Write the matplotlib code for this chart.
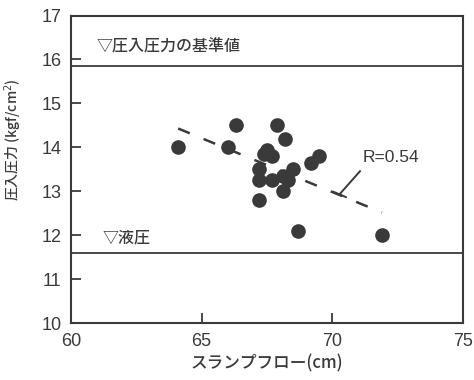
import matplotlib
matplotlib.use('Agg')
from matplotlib import pyplot as plt
import numpy as np

# slump flow (cm) vs injection pressure (kgf/cm2)
slump_flow = [64.1, 66.3, 66.0, 67.9, 68.2, 67.5, 67.4, 67.7, 67.2, 67.2,
              67.2, 67.7, 68.1, 68.3, 68.1, 68.5, 69.2, 69.5, 68.7, 71.9]
pressure = [14.0, 14.5, 14.0, 14.5, 14.2, 13.95, 13.85, 13.8, 13.5, 13.25,
            12.8, 13.25, 13.35, 13.25, 13.0, 13.5, 13.65, 13.8, 12.1, 12.0]

fit_x = [64.1, 71.9]
fit_y = [14.43, 12.52]

standard_pressure = 15.85
liquid_pressure = 11.6

num_font = ['Liberation Sans Narrow', 'Liberation Sans']
jp_font = ['Noto Sans CJK JP', 'DejaVu Sans']
ink = '#3a3a3a'

fig = plt.figure(figsize=(4.74, 3.8), dpi=100)
ax = fig.add_axes([0.1498, 0.1492, 0.8270, 0.8100])

ax.axhline(standard_pressure, color=ink, lw=1.3)
ax.axhline(liquid_pressure, color=ink, lw=1.3)
ax.plot(fit_x, fit_y, color=ink, lw=1.8, dashes=(5, 6))
ax.plot(slump_flow, pressure, 'o', color=ink, ms=9.5, mec=ink)

ax.text(60.98, 16.28, '▽圧入圧力の基準値', family=jp_font, fontsize=11.5,
        weight='medium', color=ink, va='center', ha='left')
ax.text(61.2, 11.94, '▽液圧', family=jp_font, fontsize=11.5,
        weight='medium', color=ink, va='center', ha='left')
ax.text(71.15, 13.77, 'R=0.54', family=num_font, fontsize=12.5,
        color=ink, va='center', ha='left')
# leader line to the regression line
ax.plot([71.06, 70.3], [13.46, 12.95], color=ink, lw=1.4)
ax.plot([70.04, 70.52], [12.99, 12.87], color=ink, lw=1.4)

ax.set_xlim(60, 75)
ax.set_ylim(10, 17)
ax.set_xticks([60, 65, 70, 75])
ax.set_yticks(range(10, 18))
ax.tick_params(direction='in', length=7, width=1.3, color=ink,
               labelcolor=ink, labelsize=13, pad=7)
for lab in ax.get_xticklabels() + ax.get_yticklabels():
    lab.set_family(num_font)
for s in ax.spines.values():
    s.set_color(ink)
    s.set_linewidth(1.5)

ax.set_xlabel('スランプフロー(cm)', family=jp_font, fontsize=12,
              weight='medium', color=ink, labelpad=3)
ax.set_ylabel('圧入圧力 (kgf/cm$^2$)', family=jp_font, fontsize=10,
              weight='medium', color=ink)
ax.yaxis.set_label_coords(-0.12, 0.595)

fig.savefig('out.png', dpi=100)
